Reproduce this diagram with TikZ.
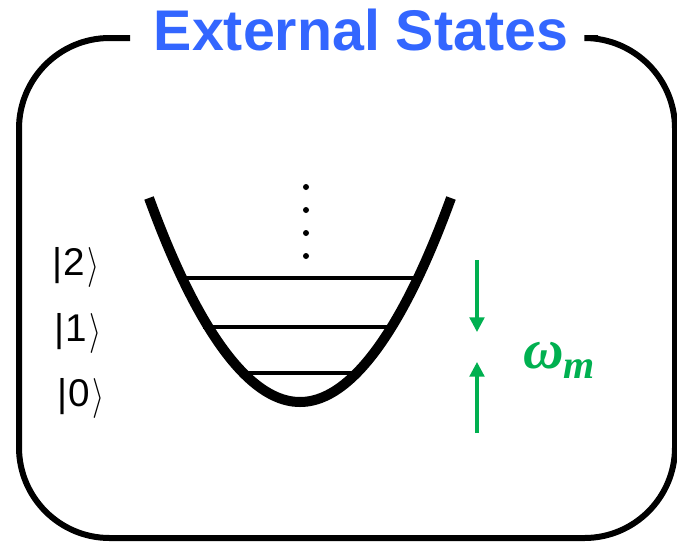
\documentclass[tikz,border=0pt]{standalone}
\usepackage{graphicx}
\usepackage{fontspec}
\setmainfont{Liberation Sans}
\newfontfamily\serifbi{Liberation Serif}
\usetikzlibrary{arrows.meta}
\definecolor{titleblue}{HTML}{3366FF}
\definecolor{wgreen}{HTML}{00B050}
\newcommand{\myket}[1]{|\kern1pt#1\kern2pt\raisebox{-1.5pt}{\resizebox*{9pt}{30pt}{$\rangle$}}}
\begin{document}
\begin{tikzpicture}[x=0.75pt,y=-0.75pt,
  frame/.style={line width=4.5pt,rounded corners=68pt},
  well/.style={line width=7.5pt},
  level/.style={line width=3pt},
  ket/.style={font=\fontsize{29}{34}\selectfont,inner sep=0pt,anchor=base west},
  gap/.style={wgreen,line width=2.4pt,-{Triangle[length=11pt,width=11pt]}},
  dot/.style={fill=black,circle,inner sep=0pt,minimum size=4.5pt}]
\useasboundingbox (0,0) rectangle (677,543);
% frame with gap for title
\draw[frame] (130,38) -- (19,38) -- (19,538) -- (675,538) -- (675,38) -- (598,38);
\node[anchor=base,text=titleblue,font=\fontsize{43}{50}\selectfont\bfseries,inner sep=0pt] (title) at (361,50) {External States};
% potential well
\draw[well] (149,198) parabola bend (300,402) (451,198);
\draw[level] (178,278) -- (420,278);
\draw[level] (203,327) -- (395,327);
\draw[level] (238,373) -- (360,373);
% dots
\node[dot] (d1) at (306,187) {};
\node[dot] (d2) at (306,210) {};
\node[dot] (d3) at (306,233) {};
\node[dot] (d4) at (306,256) {};
% kets
\node[ket] (k2) at (52,275) {\myket{2}};
\node[ket] (k1) at (54,341) {\myket{1}};
\node[ket] (k0) at (57,406) {\myket{0}};
% arrows
\coordinate (a1s) at (477,260);
\coordinate (a1e) at (477,332);
\coordinate (a2s) at (477,433);
\coordinate (a2e) at (477,362);
\draw[gap] (a1s) -- (a1e);
\draw[gap] (a2s) -- (a2e);
\node[text=wgreen,inner sep=0pt,anchor=base west] (omega) at (523,368) {\serifbi\bfseries\itshape\fontsize{42}{48}\selectfont ω\raisebox{-8pt}{\fontsize{30}{34}\selectfont m}};
\end{tikzpicture}
\end{document}
